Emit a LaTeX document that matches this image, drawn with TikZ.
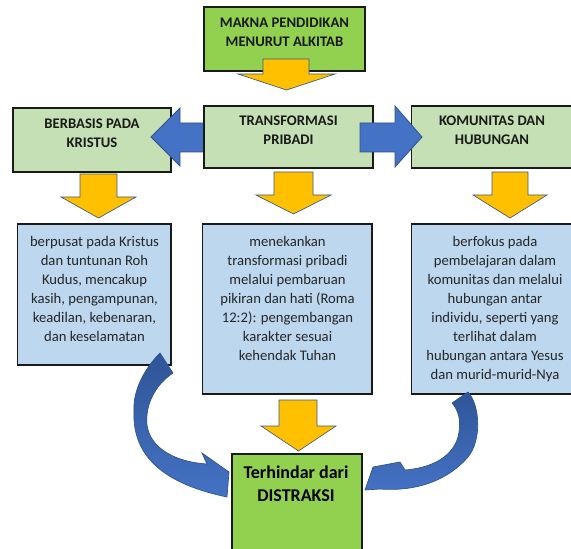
\documentclass[tikz,border=0pt]{standalone}
\usepackage{fontspec}
\setmainfont{Carlito}
\usetikzlibrary{fit}
\definecolor{dgreen}{HTML}{92D050}
\definecolor{lgreen}{HTML}{C5E0B4}
\definecolor{lblue}{HTML}{BDD7EE}
\definecolor{arrYellow}{HTML}{FFC000}
\definecolor{arrEdge}{HTML}{3B5A86}
\definecolor{arrBlue}{HTML}{4472C4}
\definecolor{arrBlueEdge}{HTML}{2F528F}
\definecolor{cblueDark}{HTML}{2F5597}
\definecolor{boxEdge}{HTML}{1A1A1A}
\newcommand\yarr[7]{\draw[yarr] (#1,#3) -- (#2,#3) -- (#2,#4) -- (#6,#4) -- ({(#5+#6)/2},#7) -- (#5,#4) -- (#1,#4) -- cycle;}
\begin{document}
\begin{tikzpicture}[x=0.75pt,y=-0.75pt,
  box/.style={draw=boxEdge,line width=0.9pt,inner sep=0pt},
  ttl/.style={font=\bfseries\fontsize{11pt}{14.25pt}\selectfont,align=center,inner sep=0pt,text=black!90},
  body/.style={font=\fontsize{11pt}{14.25pt}\selectfont,align=center,inner sep=0pt,text=black!85},
  big/.style={font=\bfseries\fontsize{13.5pt}{17.5pt}\selectfont,align=center,inner sep=0pt,text=black},
  yarr/.style={fill=arrYellow,draw=arrEdge,line width=0.5pt,line join=miter},
  barr/.style={fill=arrBlue,draw=arrBlueEdge,line width=0.6pt,line join=miter},
  carr/.style={top color=cblueDark,bottom color=arrBlue,draw=arrBlueEdge,line width=0.5pt},
]
\useasboundingbox (0,0) rectangle (571,549);
\clip (0,0) rectangle (571,549);

% top box
\node[box,fill=dgreen,fit={(204,7) (365,71)}] (makna) {};
\node[ttl] (maknaT) at (284.5,32) {MAKNA PENDIDIKAN\\MENURUT ALKITAB};
\yarr{263}{309}{59}{74}{238}{335}{90}

% second row
\node[box,fill=lgreen,fit={(13,108) (171,172)}] (kristus) {};
\node[ttl] (kristusT) at (92,133.5) {BERBASIS PADA\\KRISTUS};
\draw[barr] (215,123) -- (180,123) -- (180,108) -- (151,137) -- (180,166) -- (180,152) -- (215,152) -- cycle;
\node[box,fill=lgreen,fit={(204,106) (373,168)}] (trans) {};
\node[ttl] (transT) at (288.5,130.5) {TRANSFORMASI\\PRIBADI};
\node[box,fill=lgreen,fit={(411.5,106) (580,168)}] (komun) {};
\node[ttl] (komunT) at (492,130.5) {KOMUNITAS DAN\\HUBUNGAN};
\draw[barr] (360,123) -- (395,123) -- (395,106) -- (422,137) -- (395,167) -- (395,152) -- (360,152) -- cycle;

% yellow arrows to third row
\yarr{80}{117}{174}{197}{61}{136}{218}
\yarr{274}{313}{172}{195}{256}{331}{214}
\yarr{492}{528}{172}{195}{473}{547}{218}

% third row
\node[box,fill=lblue,fit={(17.5,224) (171,365)}] (b1) {};
\node[body] (b1T) at (94.5,288.5) {berpusat pada Kristus\\dan tuntunan Roh\\Kudus, mencakup\\kasih, pengampunan,\\keadilan, kebenaran,\\dan keselamatan};
\node[box,fill=lblue,fit={(202.5,224) (372,394)}] (b2) {};
\node[body] (b2T) at (287.5,298) {menekankan\\transformasi pribadi\\melalui pembaruan\\pikiran dan hati (Roma\\12:2): pengembangan\\karakter sesuai\\kehendak Tuhan};
\node[box,fill=lblue,fit={(411.5,224) (580,394)}] (b3) {};
\node[body] (b3T) at (495,308.7) {berfokus pada\\pembelajaran dalam\\komunitas dan melalui\\hubungan antar\\individu, seperti yang\\terlihat dalam\\hubungan antara Yesus\\dan murid-murid-Nya};

% bottom
\yarr{279}{317}{400}{426}{261}{336}{451}
\node[box,fill=dgreen,fit={(232,454) (362,560)}] (goal) {};
\node[big] (goalT) at (296,483.5) {Terhindar dari\\DISTRAKSI};

% curved arrows
\path[carr] (160,353) .. controls (143,370) and (133,392) .. (134,410)
  .. controls (132,450) and (155,482) .. (227,497)
  -- (229,472) -- (202,453) -- (207,464)
  .. controls (175,462) and (150,448) .. (147,425)
  .. controls (145,405) and (155,385) .. (173,373) -- cycle;
\path[carr] (468,392) .. controls (480,405) and (482,440) .. (468,457)
  .. controls (450,478) and (420,492) .. (380,489)
  -- (365,490) -- (373,467) -- (400,462) -- (405,470)
  .. controls (430,468) and (452,458) .. (458,437)
  .. controls (462,420) and (458,410) .. (452,403) -- cycle;
\end{tikzpicture}
\end{document}
